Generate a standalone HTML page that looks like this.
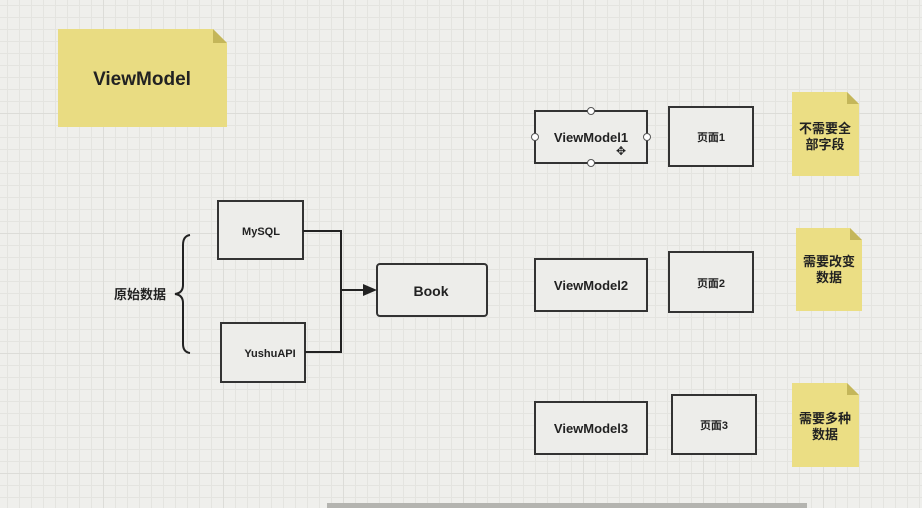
<!DOCTYPE html>
<html><head><meta charset="utf-8"><style>
html,body{margin:0;padding:0;width:922px;height:508px;overflow:hidden;background:#efefec;}
.bg{position:absolute;left:0;top:0;width:922px;height:508px;
background-image:
linear-gradient(#dcdcd8 1px,transparent 1px),
linear-gradient(90deg,#dcdcd8 1px,transparent 1px),
linear-gradient(#e4e4e0 1px,transparent 1px),
linear-gradient(90deg,#e4e4e0 1px,transparent 1px);
background-size:120px 120px,120px 120px,12px 12px,12px 12px;
background-position:0 -7px,-17px 0,0 -7px,-17px 0;}
svg{position:absolute;left:0;top:0}
text{font-family:"Liberation Sans","Noto Sans CJK SC",sans-serif;font-weight:bold;fill:#222}
</style></head><body>
<div class="bg"></div>
<svg width="922" height="508" viewBox="0 0 922 508">
<!-- ViewModel note -->
<path d="M58 29 H213 L227 43 V127 H58 Z" fill="#e9dc82"/>
<path d="M213 29 L227 43 H213 Z" fill="#c4b65a"/>
<text x="142" y="85" font-size="19" text-anchor="middle">ViewModel</text>

<g fill="#ededea" stroke="#333" stroke-width="2">
<rect x="218" y="201" width="85" height="58"/>
<rect x="221" y="323" width="84" height="59"/>
<rect x="377" y="264" width="110" height="52" rx="3"/>
<rect x="535" y="111" width="112" height="52"/>
<rect x="669" y="107" width="84" height="59"/>
<rect x="535" y="259" width="112" height="52"/>
<rect x="669" y="252" width="84" height="60"/>
<rect x="535" y="402" width="112" height="52"/>
<rect x="672" y="395" width="84" height="59"/>
</g>
<g fill="#fff" stroke="#555" stroke-width="1">
<circle cx="591" cy="111" r="3.5"/><circle cx="591" cy="163" r="3.5"/>
<circle cx="535" cy="137" r="3.5"/><circle cx="647" cy="137" r="3.5"/>
</g>
<!-- connectors -->
<g fill="none" stroke="#222" stroke-width="2">
<path d="M303 231 H341 V352 H305"/>
<path d="M341 290 H366"/>
<path d="M190 235 Q183 236 183 245 V285 Q183 293 175 294 Q183 295 183 303 V344 Q183 352 190 353"/>
</g>
<path d="M377 290 L363 284 V296 Z" fill="#222"/>
<text x="140" y="299" font-size="13" text-anchor="middle">原始数据</text>
<text x="261" y="235" font-size="11" text-anchor="middle">MySQL</text>
<text x="270" y="357" font-size="11" text-anchor="middle">YushuAPI</text>
<text x="431" y="296" font-size="14" text-anchor="middle">Book</text>
<text x="591" y="142" font-size="13" text-anchor="middle">ViewModel1</text>
<text x="591" y="290" font-size="13" text-anchor="middle">ViewModel2</text>
<text x="591" y="433" font-size="13" text-anchor="middle">ViewModel3</text>
<text x="711" y="141" font-size="11" text-anchor="middle">页面1</text>
<text x="711" y="287" font-size="11" text-anchor="middle">页面2</text>
<text x="714" y="429" font-size="11" text-anchor="middle">页面3</text>
<text x="621" y="155" font-size="12" text-anchor="middle" style="font-weight:normal">✥</text>
<!-- notes -->
<path d="M792 92 H847 L859 104 V176 H792 Z" fill="#ebde84"/>
<path d="M847 92 L859 104 H847 Z" fill="#c4b65a"/>
<text x="825" y="133" font-size="13" text-anchor="middle">不需要全</text>
<text x="825" y="149" font-size="13" text-anchor="middle">部字段</text>
<path d="M796 228 H850 L862 240 V311 H796 Z" fill="#ebde84"/>
<path d="M850 228 L862 240 H850 Z" fill="#c4b65a"/>
<text x="829" y="266" font-size="13" text-anchor="middle">需要改变</text>
<text x="829" y="282" font-size="13" text-anchor="middle">数据</text>
<path d="M792 383 H847 L859 395 V467 H792 Z" fill="#ebde84"/>
<path d="M847 383 L859 395 H847 Z" fill="#c4b65a"/>
<text x="825" y="423" font-size="13" text-anchor="middle">需要多种</text>
<text x="825" y="439" font-size="13" text-anchor="middle">数据</text>
<rect x="327" y="503" width="480" height="5" fill="#b4b4b0"/>
</svg>
</body></html>
